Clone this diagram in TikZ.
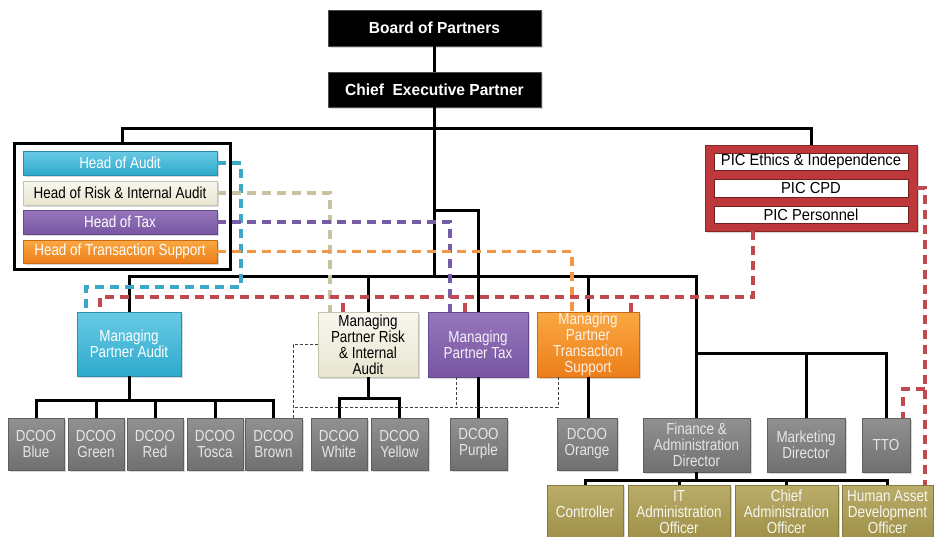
\documentclass[tikz,border=0pt]{standalone}
\usepackage{fontspec}
\setmainfont{Liberation Sans}[FakeStretch=0.84]
\newfontfamily\boldf{Liberation Sans}[FakeStretch=0.97]
\newfontfamily\picf{Liberation Sans}[FakeStretch=0.92]
\usetikzlibrary{shadows}
\definecolor{cy}{RGB}{45,170,205}
\definecolor{cyL}{RGB}{105,202,228}
\definecolor{bg}{RGB}{232,229,208}
\definecolor{bgL}{RGB}{248,247,238}
\definecolor{pu}{RGB}{120,86,162}
\definecolor{puL}{RGB}{150,118,188}
\definecolor{orr}{RGB}{236,126,26}
\definecolor{orL}{RGB}{250,168,66}
\definecolor{gr}{RGB}{112,112,112}
\definecolor{grL}{RGB}{145,145,145}
\definecolor{ol}{RGB}{158,144,72}
\definecolor{olL}{RGB}{186,173,106}
\definecolor{rd}{RGB}{190,55,58}
\definecolor{cyD}{RGB}{58,168,198}
\definecolor{bgD}{RGB}{200,194,160}
\definecolor{puD}{RGB}{118,92,165}
\definecolor{orD}{RGB}{240,150,70}
\definecolor{rdD}{RGB}{192,72,78}
\newcommand\bx[7]{\node[#6, minimum width={(#4)-(#2)}, minimum height={(#5)-(#3)}] (#1) at ({((#2)+(#4))/2},{((#3)+(#5))/2}) {#7};}
\begin{document}
\begin{tikzpicture}[x=1pt,y=-1pt,
  base/.style={inner sep=0pt, outer sep=0pt, align=center, font=\fontsize{16}{16}\selectfont},
  shd/.style={drop shadow={shadow xshift=1.5pt, shadow yshift=-1.5pt, opacity=0.3}},
  sb/.style 2 args={base, shd, top color=#1, bottom color=#2, draw=#2!85!black, line width=0.5pt},
  topbox/.style={base, shd, fill=black, draw=black!70, line width=0.5pt, text=white, font=\boldf\bfseries\fontsize{16}{16}\selectfont},
  groupbox/.style={base, draw=black, line width=3pt, fill=white},
  picbox/.style={base, shd, fill=rd, draw=rd!70!black, line width=1pt},
  strip/.style={base, fill=white, draw=rd!60!black, line width=0.5pt, font=\picf\fontsize{16}{16}\selectfont},
  grbox/.style={sb={grL}{gr}, text=white!90!black},
  olbox/.style={sb={olL}{ol}, text=white!92!ol},
  conn/.style={draw=black, line width=3pt},
  dsh/.style={line width=3.6pt, dash pattern=on 9pt off 6pt},
  thind/.style={draw=black!75, line width=0.8pt, dash pattern=on 3pt off 2pt}]
\useasboundingbox (0,0) rectangle (934,536);
\clip (0,0) rectangle (934,536);
\fill[white] (0,0) rectangle (934,536);
% top
\bx{board}{328}{10}{541}{46}{topbox}{Board of Partners}
\bx{ceo}{328}{72}{541}{107}{topbox}{Chief~ Executive Partner}
% left group
\bx{lbox}{14}{143}{230}{269}{groupbox}{}
\bx{hoa}{23}{151}{217}{175}{sb={cyL}{cy}, text=white}{Head of Audit}
\bx{hor}{23}{181}{217}{205}{sb={bgL}{bg}, text=black}{Head of Risk \& Internal Audit}
\bx{hot}{23}{210}{217}{234}{sb={puL}{pu}, text=white}{Head of Tax}
\bx{hts}{23}{240}{217}{263}{sb={orL}{orr}, text=white}{Head of Transaction Support}
% PIC group
\bx{pic}{705}{145}{917}{231}{picbox}{}
\bx{pe}{714}{153}{908}{170}{strip}{PIC Ethics \& Independence}
\bx{pc}{714}{179}{908}{197}{strip}{PIC CPD}
\bx{pp}{714}{206}{908}{223}{strip}{PIC Personnel}
% managing partners
\bx{mpa}{77}{312}{181}{376}{sb={cyL}{cy}, text=white}{Managing\\Partner Audit}
\bx{mpr}{318}{312}{418}{377}{sb={bgL}{bg}, text=black}{Managing\\Partner Risk\\\& Internal\\Audit}
\bx{mpx}{428}{312}{528}{377}{sb={puL}{pu}, text=white!92!pu}{Managing\\Partner Tax}
\bx{mpt}{537}{312}{639}{377}{sb={orL}{orr}, text=white!90!orr}{Managing\\Partner\\Transaction\\Support}
% DCOO
\bx{dblue}{8}{418}{64}{470}{grbox}{DCOO\\Blue}
\bx{dgreen}{68}{418}{124}{470}{grbox}{DCOO\\Green}
\bx{dred}{127}{418}{183}{470}{grbox}{DCOO\\Red}
\bx{dtosca}{187}{418}{243}{470}{grbox}{DCOO\\Tosca}
\bx{dbrown}{245}{418}{302}{470}{grbox}{DCOO\\Brown}
\bx{dwhite}{311}{418}{367}{470}{grbox}{DCOO\\White}
\bx{dyellow}{371}{418}{428}{470}{grbox}{DCOO\\Yellow}
\bx{dpurple}{450}{418}{507}{470}{grbox}{DCOO\\Purple}
\bx{dorange}{557}{418}{617}{470}{grbox}{DCOO\\Orange}
\bx{fin}{643}{418}{750}{472}{grbox}{Finance \&\\Administration\\Director}
\bx{mkt}{767}{418}{845}{472}{grbox}{Marketing\\Director}
\bx{tto}{862}{418}{910}{472}{grbox}{TTO}
% officers
\bx{ctrl}{547}{485}{623}{539}{olbox}{Controller}
\bx{itof}{628}{485}{730}{539}{olbox}{IT\\Administration\\Officer}
\bx{caof}{735}{485}{838}{539}{olbox}{Chief\\Administration\\Officer}
\bx{hr}{842}{485}{933}{539}{olbox}{Human Asset\\Development\\Officer}
% black connectors
\coordinate (bus) at (0,276);
\coordinate (taxj) at (0,210);
\coordinate (rbus) at (0,353);
\coordinate (abus) at (0,400);
\coordinate (rbus2) at (0,398);
\coordinate (obus) at (0,480);
\draw[conn] (board.south) -- (ceo.north);
\draw[conn] (lbox.north) -- ++(0,-15) -| (pic.north);
\draw[conn] (ceo.south) -- (ceo.south |- bus);
\draw[conn] (mpa.north) |- (fin.north |- bus) -- (fin.north);
\draw[conn] (mpr.north) -- (mpr.north |- bus);
\draw[conn] (mpt.north) -- (mpt.north |- bus);
\draw[conn] (ceo.south |- taxj) -| (mpx.north);
\draw[conn] (fin.north |- rbus) -| (tto.north);
\draw[conn] (mkt.north) -- (mkt.north |- rbus);
\draw[conn] (mpa.south) -- (mpa.south |- abus);
\draw[conn] (dblue.north) |- (dbrown.north |- abus) -- (dbrown.north);
\foreach \n in {dgreen,dred,dtosca} \draw[conn] (\n.north) -- (\n.north |- abus);
\draw[conn] (mpr.south) -- (mpr.south |- rbus2);
\draw[conn] (dwhite.north) |- (dyellow.north |- rbus2) -- (dyellow.north);
\draw[conn] (mpx.south) -- (mpx.south |- dpurple.north);
\draw[conn] (mpt.south) -- (mpt.south |- dorange.north);
\draw[conn] (fin.south) -- (fin.south |- obus);
\draw[conn] (ctrl.north) |- (hr.north |- obus) -- (hr.north);
\draw[conn] (itof.north) -- (itof.north |- obus);
\draw[conn] (caof.north) -- (caof.north |- obus);
% thin dashed
\coordinate (tl) at (293,418);
\coordinate (ty) at (0,407);
\coordinate (tx) at ([xshift=28pt]mpx.south west);
\coordinate (tr) at ([xshift=21pt]mpt.south west);
\draw[thind] (mpr.west) -| (tl);
\draw[thind] (tr) |- (tl |- ty);
\draw[thind] (tx) -- (tx |- ty);
% coloured dashed
\coordinate (cyc) at (241,287);
\draw[dsh, cyD] (hoa.east) -| (cyc) -| ([xshift=9pt]mpa.north west);
\draw[dsh, bgD] (hor.east) -| ([xshift=12pt]mpr.north west);
\draw[dsh, puD] (hot.east) -| ([xshift=22pt]mpx.north west);
\draw[dsh, orD] (hts.east) -| ([xshift=35pt]mpt.north west);
\coordinate (rdy) at (0,297);
\coordinate (ra) at ([xshift=23pt]mpa.north west);
\coordinate (rp) at ([xshift=48pt]pic.south west);
\draw[dsh, rdD] (rp) |- (ra |- rdy) -- (ra);
\foreach \n/\s in {mpr/25, mpx/37, mpt/94} \draw[dsh, rdD] ([xshift=\s]\n.north west) -- ++(0,-15);
\coordinate (rr) at ([xshift=-8pt]hr.north east);
\coordinate (rt) at ([xshift=-7pt]tto.north east);
\coordinate (rty) at (0,389);
\draw[dsh, rdD] (pc.east -| pic.east) -| (rr);
\draw[dsh, rdD] (rr |- rty) -| (rt);
\end{tikzpicture}
\end{document}
